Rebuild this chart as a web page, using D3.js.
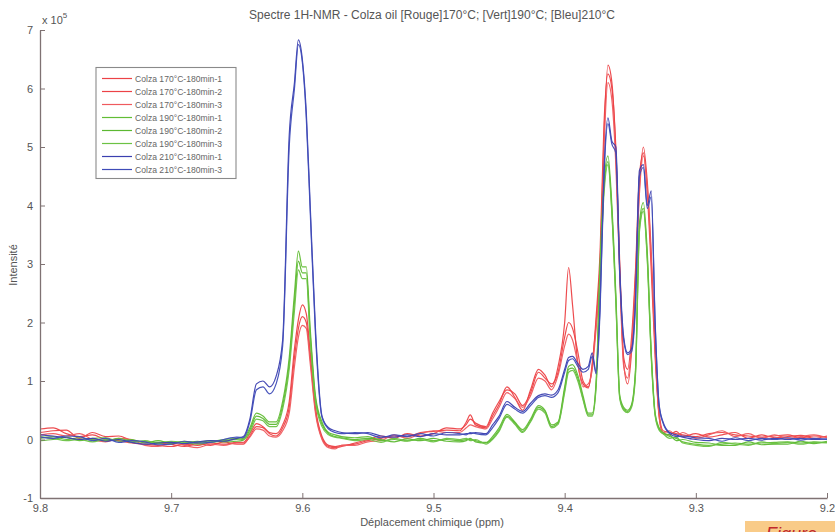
<!DOCTYPE html>
<html><head><meta charset="utf-8">
<script src="https://cdn.jsdelivr.net/npm/d3@7"></script>
<style>
body{margin:0;background:#fff}
svg{display:block}
text{font-family:"Liberation Sans",Arial,sans-serif}
</style>
</head><body>
<svg id="c" width="835" height="532"></svg>
<script>
// chemical shift (ppm) sample positions
const ppm=[9.80,9.79,9.78,9.77,9.76,9.75,9.74,9.73,9.72,9.71,9.70,9.69,9.68,9.67,9.66,9.65,
9.645,9.64,9.635,9.63,9.625,9.62,9.615,9.61,9.606,9.603,9.60,9.597,9.594,9.59,9.585,9.58,9.575,9.57,9.56,9.55,
9.54,9.53,9.52,9.51,9.50,9.49,
9.48,9.475,9.472,9.468,9.46,9.455,9.45,9.444,9.438,9.432,9.426,9.42,9.415,9.41,9.405,9.40,
9.397,9.394,9.39,9.386,9.382,9.379,9.376,9.373,9.37,9.367,9.364,9.361,9.358,9.355,9.352,9.349,9.346,9.343,9.34,9.337,9.334,9.331,9.328,9.325,
9.32,9.315,9.31,9.30,9.29,9.28,9.27,9.26,9.25,9.24,9.23,9.22,9.21,9.20];

// intensities (x 10^5)
const r1=[0.18,0.20,0.10,0.05,0.08,0.00,-0.02,-0.06,-0.08,-0.10,-0.12,-0.08,-0.10,-0.06,-0.08,-0.05,
-0.05,0.10,0.27,0.22,0.12,0.10,0.25,0.65,1.55,2.05,2.30,2.15,1.50,0.55,0.05,-0.10,-0.12,-0.10,-0.08,-0.02,
0.02,0.06,0.05,0.12,0.14,0.16,
0.15,0.30,0.42,0.25,0.20,0.40,0.60,0.90,0.72,0.50,0.85,1.20,1.10,0.90,1.25,2.00,
2.94,2.30,1.30,0.95,0.88,1.30,2.00,3.00,5.20,6.40,6.10,4.90,2.90,1.30,0.95,1.50,2.80,4.30,5.00,4.40,3.20,1.60,0.45,0.15,
0.12,0.10,0.08,0.05,0.10,0.12,0.08,0.06,0.04,0.06,0.08,0.03,0.06,0.04];
const r2=[0.12,0.15,0.16,0.02,0.12,0.05,0.06,-0.02,-0.04,-0.06,-0.08,-0.12,-0.07,-0.10,-0.04,-0.08,
-0.08,0.06,0.22,0.20,0.10,0.06,0.20,0.55,1.40,1.90,2.10,2.00,1.40,0.50,0.02,-0.12,-0.14,-0.12,-0.06,0.00,
0.06,0.02,0.10,0.06,0.10,0.20,
0.18,0.26,0.35,0.28,0.22,0.45,0.65,0.85,0.78,0.58,0.80,1.15,1.05,0.95,1.15,1.75,
2.00,1.90,1.50,1.00,0.90,1.25,2.10,3.20,5.40,6.25,6.00,5.00,3.00,1.40,1.20,1.75,2.90,4.50,4.90,4.20,2.90,1.40,0.40,0.10,
0.08,0.14,0.05,0.10,0.04,0.08,0.12,0.02,0.08,0.03,0.05,0.07,0.02,0.06];
const r3=[0.08,0.10,0.06,0.10,0.00,-0.04,0.02,0.00,-0.10,-0.12,-0.06,-0.10,-0.14,-0.08,-0.10,-0.06,
-0.06,0.04,0.18,0.16,0.06,0.04,0.15,0.45,1.25,1.75,1.95,1.90,1.30,0.45,0.00,-0.14,-0.16,-0.10,-0.10,-0.04,
-0.02,0.08,0.02,0.10,0.15,0.12,
0.12,0.20,0.25,0.22,0.18,0.35,0.55,0.80,0.70,0.55,0.75,1.05,1.00,0.85,1.10,1.60,
1.80,1.70,1.30,0.90,0.95,1.20,1.90,2.80,5.00,6.10,5.80,4.70,2.80,1.25,1.05,1.60,2.60,4.20,4.85,4.30,3.10,1.50,0.40,0.12,
0.15,0.06,0.12,0.02,0.08,0.15,0.05,0.10,0.02,0.08,0.02,0.05,0.08,0.03];
const g1=[0.02,0.05,0.00,0.03,0.00,-0.02,0.02,-0.03,-0.04,-0.05,-0.04,-0.06,-0.03,-0.05,-0.02,0.00,
0.02,0.20,0.45,0.40,0.30,0.30,0.65,1.40,2.50,3.22,2.95,2.95,1.90,0.75,0.30,0.12,0.08,0.05,0.03,0.05,
-0.02,0.00,-0.03,0.02,-0.02,0.00,
-0.02,0.00,0.00,-0.02,-0.05,0.05,0.20,0.43,0.30,0.17,0.35,0.58,0.50,0.25,0.30,0.90,
1.25,1.28,1.10,0.75,0.45,0.45,1.00,3.00,4.40,4.85,4.00,2.50,0.75,0.55,0.50,0.60,1.20,3.70,4.05,3.20,1.50,0.45,0.20,0.12,
0.05,0.02,-0.04,-0.08,-0.10,-0.08,-0.06,-0.08,-0.06,-0.05,-0.04,-0.06,-0.04,-0.05];
const g2=[-0.02,0.00,0.04,-0.02,0.02,0.03,-0.03,0.00,-0.06,-0.02,-0.07,-0.03,-0.05,-0.02,-0.04,-0.03,
-0.01,0.16,0.40,0.36,0.26,0.26,0.58,1.30,2.35,3.05,2.85,2.85,1.80,0.70,0.26,0.10,0.05,0.03,0.00,0.02,
0.00,-0.04,0.01,-0.02,0.02,-0.03,
-0.04,-0.02,0.02,-0.04,-0.06,0.02,0.16,0.40,0.28,0.14,0.32,0.55,0.48,0.22,0.28,0.85,
1.20,1.22,1.05,0.70,0.42,0.42,0.95,2.90,4.30,4.75,3.90,2.40,0.72,0.52,0.48,0.58,1.15,3.60,3.95,3.10,1.45,0.42,0.18,0.10,
0.08,-0.02,0.00,-0.05,-0.06,-0.10,-0.10,-0.04,-0.09,-0.08,-0.08,-0.03,-0.07,-0.03];
const g3=[0.05,0.02,-0.02,0.00,-0.04,0.00,0.00,-0.05,-0.02,-0.07,-0.03,-0.05,-0.08,-0.04,0.00,0.02,
0.00,0.12,0.35,0.32,0.22,0.22,0.52,1.20,2.20,2.90,2.75,2.75,1.70,0.65,0.22,0.08,0.04,0.02,-0.02,0.00,
-0.05,0.02,-0.02,0.00,-0.04,0.02,
0.00,0.02,-0.02,0.00,-0.08,0.00,0.14,0.38,0.26,0.12,0.30,0.52,0.45,0.20,0.26,0.80,
1.15,1.18,1.00,0.68,0.40,0.40,0.90,2.80,4.20,4.70,3.85,2.35,0.70,0.50,0.46,0.55,1.10,3.55,3.90,3.05,1.40,0.40,0.16,0.10,
0.02,0.04,-0.06,-0.10,-0.12,-0.05,-0.08,-0.10,-0.04,-0.07,-0.05,-0.08,-0.05,-0.06];
const b1=[0.08,0.06,0.03,0.00,0.02,-0.03,0.00,-0.05,-0.08,-0.06,-0.05,-0.07,-0.04,-0.02,-0.03,0.02,
0.05,0.35,0.95,1.00,0.90,1.08,1.70,5.20,6.10,6.83,6.50,5.60,4.00,1.90,0.40,0.20,0.15,0.12,0.10,0.12,
0.06,0.04,0.08,0.05,0.10,0.08,
0.08,0.10,0.10,0.12,0.10,0.25,0.40,0.65,0.55,0.48,0.62,0.75,0.78,0.76,0.85,1.20,
1.40,1.42,1.30,1.20,1.25,1.48,1.15,2.30,4.60,5.50,5.10,5.00,2.90,1.75,1.48,1.55,2.40,4.60,4.70,4.00,4.25,2.00,0.60,0.30,
0.12,0.08,0.04,0.00,-0.02,0.02,0.00,0.02,-0.01,0.02,0.00,0.02,0.00,0.01];
const b3=[0.04,0.02,0.06,0.05,-0.02,0.02,-0.05,-0.02,-0.04,-0.09,-0.08,-0.03,-0.06,-0.05,0.00,0.04,
0.03,0.30,0.85,0.90,0.78,0.95,1.60,5.00,6.00,6.75,6.45,5.50,3.90,1.80,0.38,0.18,0.12,0.10,0.12,0.10,
0.03,0.08,0.05,0.10,0.06,0.12,
0.10,0.08,0.12,0.10,0.08,0.20,0.36,0.60,0.52,0.45,0.58,0.72,0.75,0.72,0.80,1.15,
1.35,1.38,1.25,1.15,1.20,1.42,1.12,2.20,4.50,5.40,5.05,4.90,2.80,1.70,1.45,1.50,2.30,4.50,4.65,3.95,4.15,1.95,0.58,0.28,
0.10,0.05,0.06,0.03,0.02,-0.03,0.03,-0.02,0.02,0.00,0.03,-0.01,0.02,0.00];

const seriesNames=["Colza 170°C-180min-1","Colza 170°C-180min-2","Colza 170°C-180min-3",
"Colza 190°C-180min-1","Colza 190°C-180min-2","Colza 190°C-180min-3",
"Colza 210°C-180min-1","Colza 210°C-180min-3"];
const seriesValues=[r1,r2,r3,g1,g2,g3,b1,b3];
const seriesColors=["#ec4246","#ec4246","#ef5a5e","#62bd35","#5cb832","#6cc244","#3b3fb0","#3f4cb8"];
const xTicks=[9.8,9.7,9.6,9.5,9.4,9.3,9.2];
const yTicks=[-1,0,1,2,3,4,5,6,7];
const titleText="Spectre 1H-NMR - Colza oil [Rouge]170°C; [Vert]190°C; [Bleu]210°C";

const svg=d3.select("#c");
const x=d3.scaleLinear().domain([9.8,9.2]).range([40,827]);
const y=d3.scaleLinear().domain([-1,7]).range([498,30]);
const axisColor="#7f7273";

// lines
const line=d3.line().x((d,i)=>x(ppm[i])).y(d=>y(d)).curve(d3.curveMonotoneX);
svg.append("g").selectAll("path").data(seriesValues).join("path")
  .attr("d",d=>line(d)).attr("fill","none")
  .attr("stroke",(d,i)=>seriesColors[i]).attr("stroke-width",1.2)
  .attr("stroke-linejoin","round").attr("opacity",0.95);

// axes
const ax=svg.append("g").attr("transform","translate(0,498)")
  .call(d3.axisBottom(x).tickValues(xTicks).tickSizeInner(-5).tickSizeOuter(0).tickPadding(6).tickFormat(d3.format(".1f")));
const ay=svg.append("g").attr("transform","translate(40,0)")
  .call(d3.axisLeft(y).tickValues(yTicks).tickSizeInner(-5).tickSizeOuter(0).tickPadding(7).tickFormat(d=>String(d)));
[ax,ay].forEach(g=>{
  g.select(".domain").attr("stroke",axisColor).attr("stroke-width",1.3);
  g.selectAll(".tick line").attr("stroke",axisColor);
  g.selectAll(".tick text").attr("fill","#555").attr("font-size",11).attr("font-family","Liberation Sans, Arial, sans-serif");
});

// exponent
const ex=svg.append("text").attr("x",42).attr("y",24).attr("font-size",11).attr("fill","#555");
ex.append("tspan").text("x 10");
ex.append("tspan").attr("dy",-6).attr("font-size",8).text("5");

// title
svg.append("text").attr("x",432).attr("y",19).attr("text-anchor","middle")
  .attr("font-size",12).attr("fill","#555").text(titleText);

// axis labels
svg.append("text").attr("x",432).attr("y",526).attr("text-anchor","middle")
  .attr("font-size",11).attr("fill","#555").text("Déplacement chimique (ppm)");
svg.append("text").attr("transform","translate(17,265) rotate(-90)").attr("text-anchor","middle")
  .attr("font-size",11).attr("fill","#555").text("Intensité");

// legend
const lg=svg.append("g");
lg.append("rect").attr("x",96).attr("y",67.5).attr("width",140).attr("height",111)
  .attr("fill","#fff").attr("stroke","#8a8a8a").attr("stroke-width",1.1);
const le=lg.selectAll("g.e").data(seriesNames).join("g").attr("class","e")
  .attr("transform",(d,i)=>`translate(0,${78.5+i*13})`);
le.append("line").attr("x1",102).attr("x2",132).attr("y1",0).attr("y2",0)
  .attr("stroke",(d,i)=>seriesColors[i]).attr("stroke-width",1.2);
le.append("text").attr("x",135).attr("y",3).attr("font-size",8.6).attr("fill","#666").text(d=>d);

// cropped caption box (bottom right)
svg.append("rect").attr("x",745).attr("y",521).attr("width",90).attr("height",11).attr("fill","#f9cb88");
svg.append("text").attr("x",766).attr("y",540).attr("font-size",18).attr("font-style","italic")
  .attr("font-family","Liberation Serif, serif").attr("fill","#c0282c").text("Figure");
</script>
</body></html>
